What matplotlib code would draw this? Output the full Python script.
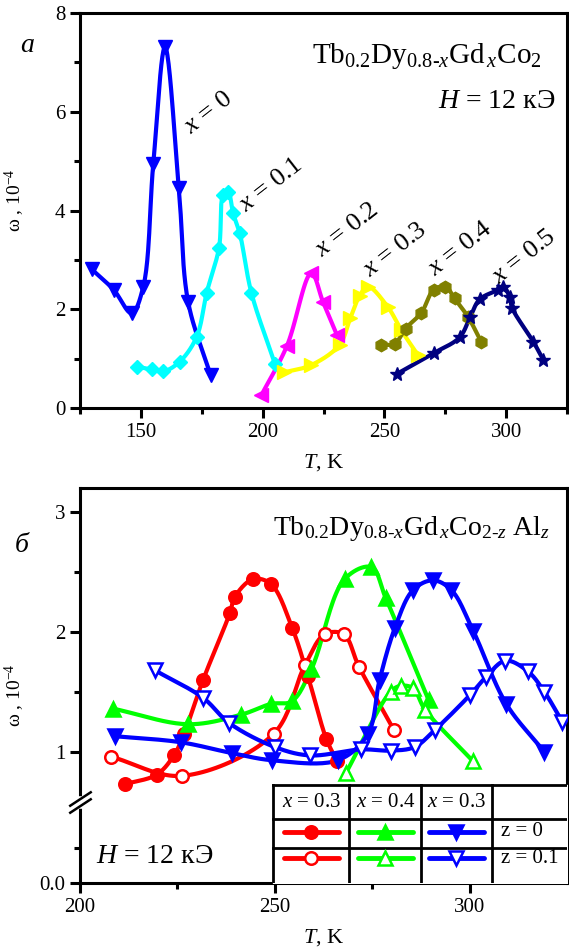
import numpy as np
import matplotlib
matplotlib.use("Agg")
import matplotlib.pyplot as plt

plt.rcParams['font.family'] = ['Liberation Serif', 'DejaVu Serif']
plt.rcParams['mathtext.fontset'] = 'custom'
plt.rcParams['mathtext.rm'] = 'Liberation Serif'
plt.rcParams['mathtext.it'] = 'Liberation Serif:italic'
plt.rcParams['axes.linewidth'] = 2.2

# --- panel a: Tb0.2Dy0.8-xGdxCo2 ---
t_x00 = [129.8, 138.9, 146.2, 151.0, 155.1, 159.9, 165.6, 169.4, 178.6]
w_x00 = [2.81, 2.39, 1.92, 2.46, 4.95, 7.31, 4.45, 2.15, 0.67]
t_x01 = [148.3, 154.4, 159.2, 166.0, 172.9, 177.0, 182.1, 183.8, 185.8, 187.9, 190.6, 195.4, 205.0]
w_x01 = [0.84, 0.78, 0.74, 0.94, 1.44, 2.33, 3.25, 4.31, 4.38, 3.94, 3.54, 2.33, 0.90]
t_x02 = [199.5, 210.0, 220.0, 224.8, 230.5]
w_x02 = [0.26, 1.26, 2.73, 2.15, 1.48]
t_x03 = [208.7, 220.0, 231.6, 236.0, 239.8, 243.2, 251.5, 256.9, 263.8]
w_x03 = [0.72, 0.87, 1.28, 1.82, 2.27, 2.46, 2.04, 1.58, 1.07]
t_x04 = [248.7, 254.2, 258.7, 265.2, 270.2, 275.1, 278.8, 284.3, 289.8]
w_x04 = [1.28, 1.30, 1.61, 1.93, 2.39, 2.46, 2.22, 1.85, 1.34]
t_x05 = [255.1, 270.2, 280.9, 285.3, 289.1, 296.6, 298.9, 301.4, 302.5, 311.2, 315.3]
w_x05 = [0.69, 1.11, 1.43, 1.85, 2.20, 2.39, 2.46, 2.25, 2.02, 1.34, 0.97]

series_a = [
    (t_x00, w_x00, '#0000FF', 'v', 10),
    (t_x01, w_x01, '#00FFFF', 'D', 7.5),
    (t_x02, w_x02, '#FF00FF', '<', 10),
    (t_x03, w_x03, '#FFFF00', '>', 10),
    (t_x04, w_x04, '#808000', 'h', 9),
    (t_x05, w_x05, '#000080', '*', 10),
]
labels_a = ['$x$ = 0', '$x$ = 0.1', '$x$ = 0.2', '$x$ = 0.3', '$x$ = 0.4', '$x$ = 0.5']
label_pos_a = [(177.7, 5.97), (203.3, 4.51), (234.7, 3.60), (254.6, 3.20), (281.4, 3.22), (307.5, 3.06)]

# --- panel b: Tb0.2Dy0.8-xGdxCo2-zAlz ---
t_r0 = [211.5, 219.7, 224.1, 226.7, 231.6, 238.5, 239.7, 244.4, 249.0, 254.5, 258.5, 263.2, 266.0]
w_r0 = [0.73, 0.81, 0.97, 1.15, 1.60, 2.16, 2.29, 2.44, 2.40, 2.03, 1.63, 1.11, 0.92]
t_r1 = [207.9, 226.3, 249.7, 257.7, 262.8, 267.7, 271.6, 280.6]
w_r1 = [0.96, 0.80, 1.15, 1.72, 1.98, 1.98, 1.71, 1.18]
t_g0 = [208.5, 227.8, 241.4, 249.1, 254.3, 259.4, 267.9, 274.8, 278.5, 289.5]
w_g0 = [1.36, 1.23, 1.31, 1.40, 1.42, 1.69, 2.44, 2.54, 2.28, 1.43]
t_g1 = [268.2, 279.7, 282.3, 285.5, 288.6, 300.9]
w_g1 = [0.82, 1.50, 1.55, 1.53, 1.35, 0.92]
t_b0 = [209.0, 225.8, 238.9, 249.2, 266.2, 273.9, 276.9, 280.8, 285.5, 290.6, 295.3, 300.9, 309.4, 319.2]
w_b0 = [1.13, 1.08, 0.99, 0.93, 0.93, 1.15, 1.60, 2.03, 2.35, 2.43, 2.35, 2.01, 1.40, 1.00]
t_b1 = [219.2, 231.6, 238.3, 250.0, 259.0, 272.2, 279.9, 285.9, 291.0, 300.0, 304.1, 309.2, 315.0, 319.2, 323.8]
w_b1 = [1.68, 1.45, 1.24, 1.04, 0.97, 1.02, 1.01, 1.04, 1.18, 1.47, 1.62, 1.76, 1.67, 1.50, 1.25]

series_b = [
    (t_r0, w_r0, '#FF0000', 'o', True),
    (t_r1, w_r1, '#FF0000', 'o', False),
    (t_g0, w_g0, '#00FF00', '^', True),
    (t_g1, w_g1, '#00FF00', '^', False),
    (t_b0, w_b0, '#0000FF', 'v', True),
    (t_b1, w_b1, '#0000FF', 'v', False),
]


def smooth_curve(ax, xs, ys, n=24):
    """Centripetal Catmull-Rom through the points, computed in display space."""
    pts = ax.transData.transform(np.column_stack([xs, ys]))
    P = np.vstack([2 * pts[0] - pts[1], pts, 2 * pts[-1] - pts[-2]])
    out = []
    for i in range(1, len(P) - 2):
        p0, p1, p2, p3 = P[i - 1], P[i], P[i + 1], P[i + 2]
        t0 = 0.0
        t1 = t0 + max(np.linalg.norm(p1 - p0), 1e-6) ** 0.5
        t2 = t1 + max(np.linalg.norm(p2 - p1), 1e-6) ** 0.5
        t3 = t2 + max(np.linalg.norm(p3 - p2), 1e-6) ** 0.5
        t = np.linspace(t1, t2, n)[:, None]
        a1 = (t1 - t) / (t1 - t0) * p0 + (t - t0) / (t1 - t0) * p1
        a2 = (t2 - t) / (t2 - t1) * p1 + (t - t1) / (t2 - t1) * p2
        a3 = (t3 - t) / (t3 - t2) * p2 + (t - t2) / (t3 - t2) * p3
        b1 = (t2 - t) / (t2 - t0) * a1 + (t - t0) / (t2 - t0) * a2
        b2 = (t3 - t) / (t3 - t1) * a2 + (t - t1) / (t3 - t1) * a3
        c = (t2 - t) / (t2 - t1) * b1 + (t - t1) / (t2 - t1) * b2
        out.append(c)
    xy = ax.transData.inverted().transform(np.vstack(out))
    return xy[:, 0], xy[:, 1]


def style_axes(ax):
    ax.tick_params(which='both', direction='out', top=False, right=False,
                   labelsize=15, width=2.2)
    ax.tick_params(which='major', length=7)
    ax.tick_params(which='minor', length=4)


fig = plt.figure(figsize=(5.69, 9.48), dpi=100)

# ---------------- panel a ----------------
ax1 = fig.add_axes([80 / 569, 1 - 408 / 948, 487 / 569, 395 / 948])
ax1.set_xlim(125, 325)
ax1.set_ylim(0, 8)
ax1.set_xticks([150, 200, 250, 300])
ax1.set_xticks([125, 175, 225, 275, 325], minor=True)
ax1.set_yticks([0, 2, 4, 6, 8])
ax1.set_yticks([1, 3, 5, 7], minor=True)
style_axes(ax1)

for ts, ws, col, mk, ms in series_a:
    sx, sy = smooth_curve(ax1, ts, ws)
    ax1.plot(sx, sy, color=col, lw=3, solid_capstyle='round', zorder=2)
    ax1.plot(ts, ws, ls='none', marker=mk, ms=ms, color=col, mec=col, zorder=3)

for txt, (tx, ty) in zip(labels_a, label_pos_a):
    ax1.text(tx, ty, txt, fontsize=19, rotation=38, ha='center', va='center',
             rotation_mode='anchor')

ax1.set_ylabel('ω , 10$^{-4}$', fontsize=14)
ax1.yaxis.set_label_coords(-0.109, 0.527)
ax1.set_xlabel('$T$, K', fontsize=16)
ax1.xaxis.set_label_coords(0.5, -0.112)

fig.text(542 / 569, 1 - 63 / 948,
         r'Tb$_{0.2}$Dy$_{0.8\text{-}x}$Gd$_{\,x}$Co$_2$',
         fontsize=21, ha='right', va='baseline')
fig.text(555 / 569, 1 - 108 / 948, '$H$ = 12 кЭ', fontsize=20,
         ha='right', va='baseline')
fig.text(20 / 569, 1 - 52 / 948, 'а', fontsize=20, style='italic',
         ha='left', va='baseline')

# ---------------- panel b (broken y axis below 0.57) ----------------
y_brk, d_low = 0.57, -0.094


def fwd(y):
    y = np.asarray(y, dtype=float)
    return np.where(y < y_brk, d_low + y * (y_brk - d_low) / y_brk, y)


def inv(d):
    d = np.asarray(d, dtype=float)
    return np.where(d < y_brk, (d - d_low) * y_brk / (y_brk - d_low), d)


ax2 = fig.add_axes([80 / 569, 1 - 883 / 948, 487 / 569, 395 / 948])
ax2.set_yscale('function', functions=(fwd, inv))
ax2.set_xlim(200, 325)
ax2.set_ylim(0, 3.2)
ax2.set_xticks([200, 250, 300])
ax2.set_xticks([225, 275], minor=True)
ax2.set_yticks([0, 1, 2, 3])
ax2.set_yticklabels(['0.0', '1', '2', '3'])
ax2.set_yticks([0.25, 1.5, 2.5], minor=True)
ax2.yaxis.set_minor_formatter(matplotlib.ticker.NullFormatter())
style_axes(ax2)

for ts, ws, col, mk, filled in series_b:
    sx, sy = smooth_curve(ax2, ts, ws)
    ax2.plot(sx, sy, color=col, lw=3, zorder=2)
    ax2.plot(ts, ws, ls='none', marker=mk, ms=9 if mk == 'o' else 10,
             color=col, mec=col, mfc=col if filled else 'white',
             mew=1.8, zorder=3)

# break marks on the left spine
gap0, gap1 = (883 - 806) / 395, (883 - 799) / 395
ax2.plot([0, 0], [gap0, gap1], transform=ax2.transAxes, color='white',
         lw=4, clip_on=False, zorder=5)
for yc in (gap0, gap1):
    ax2.plot([-0.02, 0.022], [yc - 0.017, yc + 0.017], transform=ax2.transAxes,
             color='black', lw=1.8, clip_on=False, zorder=6)

ax2.set_ylabel('ω , 10$^{-4}$', fontsize=14)
ax2.yaxis.set_label_coords(-0.109, 0.476)
ax2.set_xlabel('$T$, K', fontsize=16)
ax2.xaxis.set_label_coords(0.5, -0.112)

fig.text(550 / 569, 1 - 535 / 948,
         r'Tb$_{0.2}$Dy$_{0.8\text{-}x}$Gd$_{\,x}$Co$_{2\text{-}z}$ Al$_{z}$',
         fontsize=20, ha='right', va='baseline')
fig.text(96 / 569, 1 - 863 / 948, '$H$ = 12 кЭ', fontsize=20,
         ha='left', va='baseline')
fig.text(15 / 569, 1 - 552 / 948, 'б', fontsize=20, style='italic',
         ha='left', va='baseline')

# legend table in the lower right corner
tx = ax2.transAxes
col_x = [0.397, 0.553, 0.701, 0.845, 1.0]
row_y = [0.248, 0.161, 0.0876, 0.0]
for xv in col_x[:-1]:
    ax2.plot([xv, xv], [0, row_y[0]], transform=tx, color='black', lw=2, zorder=7)
for yv in row_y[:-1]:
    ax2.plot([col_x[0], 1.0], [yv, yv], transform=tx, color='black', lw=2, zorder=7)
ax2.fill_between([col_x[0], 1.0], 0, row_y[0], transform=tx, color='white', zorder=6)

head = ['$x$ = 0.3', '$x$ = 0.4', '$x$ = 0.3']
legend_cols = [('#FF0000', 'o'), ('#00FF00', '^'), ('#0000FF', 'v')]
for j, (txt, (col, mk)) in enumerate(zip(head, legend_cols)):
    xm = (col_x[j] + col_x[j + 1]) / 2
    ax2.text(xm, 0.205, txt, transform=tx, fontsize=15, ha='center',
             va='center', zorder=8)
    for yl, filled in ((0.130, True), (0.0625, False)):
        ax2.plot([xm - 0.056, xm + 0.056], [yl, yl], transform=tx, color=col,
                 lw=3.5, solid_capstyle='round', zorder=8, clip_on=False)
        ax2.plot([xm], [yl], transform=tx, marker=mk, ms=9 if mk == 'o' else 10,
                 color=col, mec=col, mfc=col if filled else 'white', mew=1.8,
                 zorder=9, clip_on=False)
ax2.text(0.865, 0.130, 'z = 0', transform=tx, fontsize=15, ha='left',
         va='center', zorder=8)
ax2.text(0.865, 0.0625, 'z = 0.1', transform=tx, fontsize=15, ha='left',
         va='center', zorder=8)

fig.savefig('out.png', dpi=100)
